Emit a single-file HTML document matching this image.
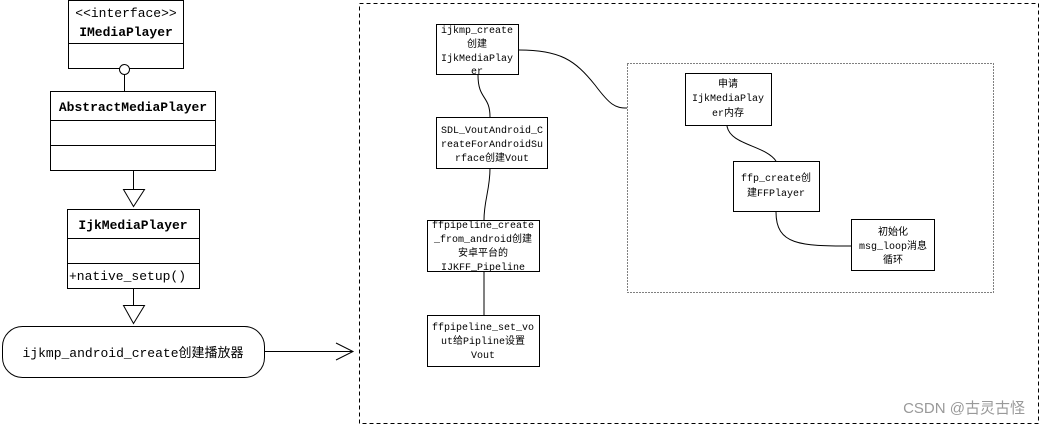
<!DOCTYPE html>
<html><head><meta charset="utf-8"><style>
html,body{margin:0;padding:0;background:#fff;}
svg{display:block;}
text{font-family:"Liberation Mono","Noto Sans CJK SC",monospace;fill:#000;}
</style></head><body>
<svg width="1040" height="426" viewBox="0 0 1040 426" xmlns="http://www.w3.org/2000/svg">
<g fill="none" stroke="#000" stroke-width="1">
<!-- left UML -->
<rect x="68.5" y="0.5" width="115" height="68"/>
<line x1="68" y1="43.5" x2="184" y2="43.5"/>
<line x1="124.5" y1="74" x2="124.5" y2="91"/>
<circle cx="124.5" cy="69.5" r="5" fill="#fff"/>
<rect x="50.5" y="91.5" width="165" height="79"/>
<line x1="50" y1="120.5" x2="216" y2="120.5"/>
<line x1="50" y1="145.5" x2="216" y2="145.5"/>
<line x1="133.5" y1="171" x2="133.5" y2="189"/>
<polygon points="123.5,189.5 144.5,189.5 133.5,206.5"/>
<rect x="67.5" y="209.5" width="132" height="79"/>
<line x1="67" y1="238.5" x2="200" y2="238.5"/>
<line x1="67" y1="263.5" x2="200" y2="263.5"/>
<line x1="133.5" y1="289" x2="133.5" y2="305"/>
<polygon points="123.5,305.5 144.5,305.5 133.5,323.5"/>
<rect x="2.5" y="326.5" width="262" height="51" rx="20" ry="20"/>
<line x1="264" y1="351.5" x2="353" y2="351.5"/>
<polyline points="336,343 353,351.5 336,360"/>
<!-- outer dashed -->
<rect x="359.5" y="3.5" width="679" height="420" stroke-dasharray="4,3"/>
<!-- inner dotted -->
<rect x="627.5" y="63.5" width="366" height="229" stroke-dasharray="1,2"/>
<!-- boxes -->
<rect x="436.5" y="24.5" width="82" height="50"/>
<rect x="436.5" y="117.5" width="111" height="51"/>
<rect x="427.5" y="220.5" width="112" height="51"/>
<rect x="427.5" y="315.5" width="112" height="51"/>
<rect x="685.5" y="73.5" width="86" height="52"/>
<rect x="733.5" y="161.5" width="86" height="50"/>
<rect x="851.5" y="219.5" width="83" height="51"/>
<!-- connectors -->
<path d="M519,50 C560,50 575,60 595,85 C610,105 615,108 627,108"/>
<path d="M478,75 C478,100 490,95 490,117"/>
<path d="M490,168 C490,190 484,200 484,220"/>
<line x1="484" y1="271" x2="484" y2="315"/>
<path d="M727,126 C730,145 765,145 776,161"/>
<path d="M776,212 C776,245 800,246 851,246"/>
</g>
<g font-size="13" text-anchor="middle">
<text x="126" y="17">&lt;&lt;interface&gt;&gt;</text>
<text x="126" y="36" font-weight="bold">IMediaPlayer</text>
<text x="133" y="111" font-weight="bold">AbstractMediaPlayer</text>
<text x="133" y="229" font-weight="bold">IjkMediaPlayer</text>
<text x="69" y="280" text-anchor="start">+native_setup()</text>
<text x="133" y="357">ijkmp_android_create创建播放器</text>
</g>
<g font-size="10" text-anchor="middle">
<text x="477" y="33">ijkmp_create</text>
<text x="477" y="47">创建</text>
<text x="477" y="61">IjkMediaPlay</text>
<text x="477" y="74">er</text>
<text x="492" y="133">SDL_VoutAndroid_C</text>
<text x="492" y="147">reateForAndroidSu</text>
<text x="492" y="161">rface创建Vout</text>
<text x="483" y="228">ffpipeline_create</text>
<text x="483" y="242">_from_android创建</text>
<text x="483" y="256">安卓平台的</text>
<text x="483" y="270">IJKFF_Pipeline</text>
<text x="483" y="330">ffpipeline_set_vo</text>
<text x="483" y="344">ut给Pipline设置</text>
<text x="483" y="358">Vout</text>
<text x="728" y="87">申请</text>
<text x="728" y="101">IjkMediaPlay</text>
<text x="728" y="116">er内存</text>
<text x="776" y="181">ffp_create创</text>
<text x="776" y="196">建FFPlayer</text>
<text x="893" y="235">初始化</text>
<text x="893" y="249">msg_loop消息</text>
<text x="893" y="263">循环</text>
</g>
<text x="1025" y="413" font-size="15" text-anchor="end" style="font-family:'Liberation Sans','Noto Sans CJK SC',sans-serif;fill:#999">CSDN @古灵古怪</text>
</svg>
</body></html>
